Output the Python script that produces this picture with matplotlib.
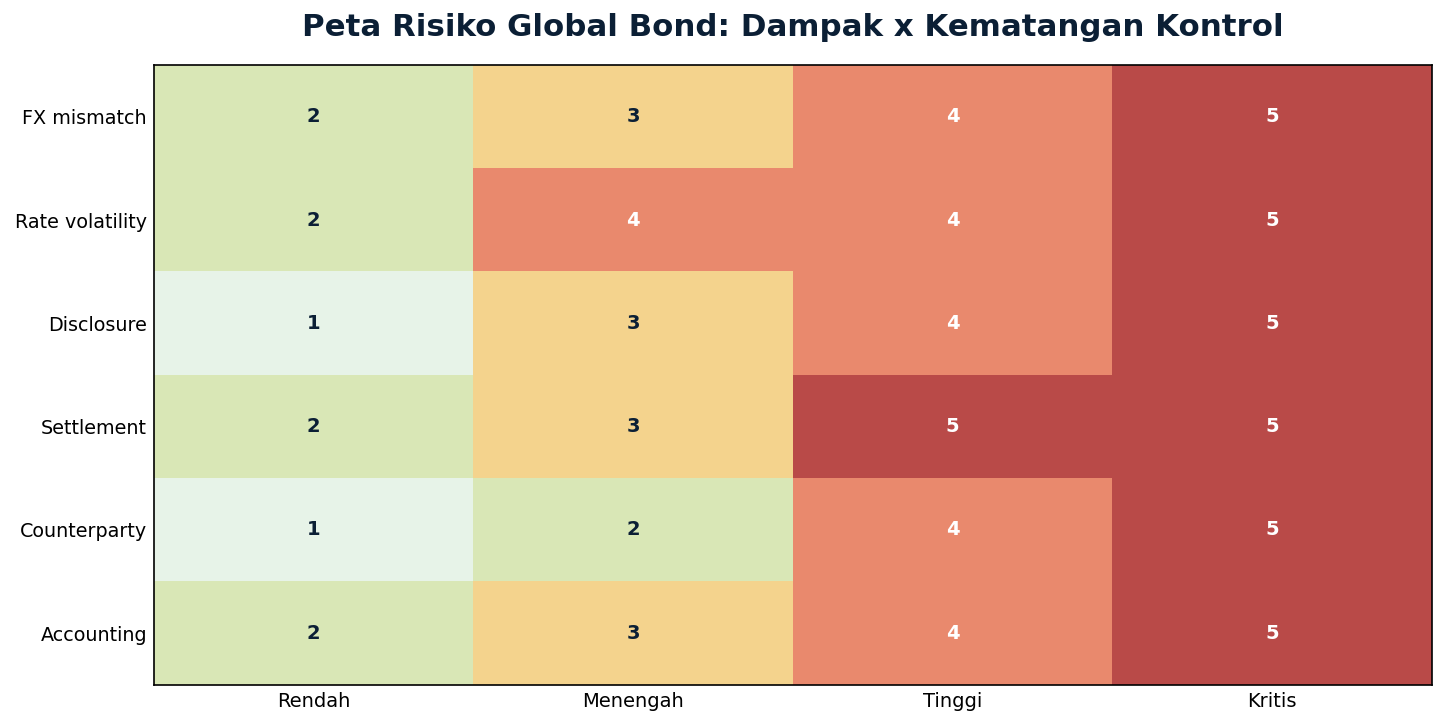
import numpy as np
import matplotlib.pyplot as plt
from matplotlib.colors import ListedColormap, BoundaryNorm

risks = ["FX mismatch", "Rate volatility", "Disclosure", "Settlement",
         "Counterparty", "Accounting"]
impact_levels = ["Rendah", "Menengah", "Tinggi", "Kritis"]
scores = np.array([
    [2, 3, 4, 5],
    [2, 4, 4, 5],
    [1, 3, 4, 5],
    [2, 3, 5, 5],
    [1, 2, 4, 5],
    [2, 3, 4, 5],
])

level_colors = ["#e7f3e8", "#d9e7b6", "#f4d38d", "#e9896d", "#b94a48"]
cmap = ListedColormap(level_colors)
norm = BoundaryNorm([0.5, 1.5, 2.5, 3.5, 4.5, 5.5], cmap.N)

fig = plt.figure(figsize=(14.46, 7.24), dpi=100)
ax = fig.add_axes([0.1065, 0.054, 0.8835, 0.856])
ax.imshow(scores, cmap=cmap, norm=norm, aspect="auto")

for i in range(scores.shape[0]):
    for j in range(scores.shape[1]):
        v = scores[i, j]
        ax.text(j, i, str(v), ha="center", va="center", fontsize=14,
                fontweight="bold", color="white" if v >= 4 else "#0b1f35")

ax.set_xticks(range(len(impact_levels)))
ax.set_xticklabels(impact_levels, fontsize=14)
ax.set_yticks(range(len(risks)))
ax.set_yticklabels(risks, fontsize=13.8)
ax.tick_params(length=0, pad=5)
for s in ax.spines.values():
    s.set_linewidth(1.2)

ax.set_title("Peta Risiko Global Bond: Dampak x Kematangan Kontrol",
             fontsize=22.2, fontweight="bold", color="#0b1f35", pad=21)

fig.savefig("out.png", dpi=100)
